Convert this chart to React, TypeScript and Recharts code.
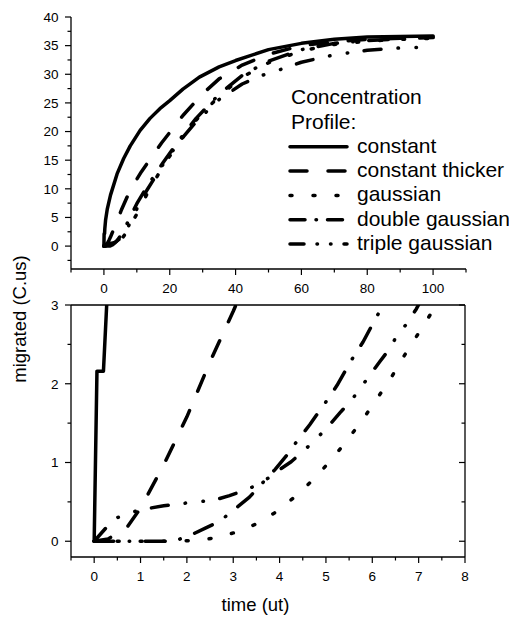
import { LineChart, Line, XAxis, YAxis } from "recharts";

const FONT = '"Liberation Sans", Arial, Helvetica, sans-serif';

// time (ut) vs migrated (C.us)
const constantT = [0, 0.06, 0.2, 0.27, 0.5, 1, 2, 4, 6, 8, 11, 14, 17, 20, 24, 29, 35, 40, 50, 60, 70, 80, 90, 100];
const constantV = [0, 2.16, 2.16, 3, 4.5, 6.4, 8.9, 12.6, 15.3, 17.5, 20.2, 22.3, 24, 25.4, 27.4, 29.5, 31.3, 32.4, 34.3, 35.4, 36.1, 36.5, 36.6, 36.7];

const thickerT = [0, 0.3, 0.7, 1, 1.5, 2, 2.5, 3, 4, 5.3, 8, 11.4, 17.5, 24, 30, 35, 42, 50, 60, 70, 80, 90, 100];
const thickerV = [0, 0.03, 0.17, 0.42, 0.97, 1.58, 2.28, 2.92, 4.3, 6.3, 9.8, 13, 18, 22.8, 26.6, 29.2, 31.6, 33.5, 35, 35.7, 36.1, 36.3, 36.5];

const gaussT = [0, 1, 1.7, 2.16, 2.59, 3.03, 3.46, 3.89, 4.32, 4.74, 5.14, 5.48, 5.8, 6.1, 6.39, 6.65, 6.92, 7.18, 7.4, 8, 10, 13, 18, 23, 28, 35, 42, 50, 60, 70, 80, 90, 100];
const gaussV = [0, 0, 0, 0.01, 0.04, 0.11, 0.21, 0.36, 0.56, 0.79, 1.05, 1.3, 1.55, 1.81, 2.06, 2.32, 2.57, 2.81, 3.02, 3.6, 5.6, 9, 14, 18.3, 22, 26.2, 29.5, 32, 34.1, 35.2, 35.8, 36.1, 36.3];

const doubleT = [0, 1, 1.73, 2.16, 2.41, 2.7, 3.06, 3.35, 3.6, 3.9, 4.14, 4.35, 4.65, 5, 5.24, 5.55, 5.8, 6.09, 6.27, 7, 8, 10, 13, 18, 23, 28, 35, 42, 50, 60, 70, 80, 90, 100];
const doubleV = [0, 0, 0, 0.1, 0.17, 0.25, 0.42, 0.56, 0.72, 0.91, 1.08, 1.25, 1.48, 1.77, 1.98, 2.3, 2.53, 2.85, 3.02, 3.9, 5.1, 7.4, 10.3, 14.6, 18.6, 22.3, 26.5, 29.8, 32.3, 34.3, 35.4, 35.9, 36.2, 36.4];

const tripleT = [0, 0.42, 0.71, 1, 1.5, 2.05, 2.38, 2.63, 2.92, 3.17, 3.46, 3.75, 4, 4.25, 4.54, 4.81, 5.08, 5.3, 5.55, 5.75, 5.96, 6.16, 6.38, 6.52, 6.74, 6.95, 8, 10, 13, 18, 23, 28, 35, 42, 48, 53, 60, 70, 80, 90, 97];
const tripleV = [0, 0.28, 0.35, 0.4, 0.45, 0.49, 0.51, 0.53, 0.58, 0.63, 0.7, 0.8, 0.91, 1.01, 1.16, 1.31, 1.48, 1.63, 1.79, 1.95, 2.12, 2.28, 2.45, 2.6, 2.76, 2.95, 4.1, 6.5, 9.7, 14.3, 18.3, 21.7, 25.6, 28.3, 29.8, 30.7, 32.1, 33.4, 34.2, 34.6, 34.7];

// ticks (majors get labels, the rest are minor marks)
const TOP_X_TICKS = [-10, 0, 10, 20, 30, 40, 50, 60, 70, 80, 90, 100, 110];
const TOP_Y_TICKS = [-2.5, 0, 2.5, 5, 7.5, 10, 12.5, 15, 17.5, 20, 22.5, 25, 27.5, 30, 32.5, 35, 37.5, 40];
const BOT_X_TICKS = [-0.5, 0, 0.5, 1, 1.5, 2, 2.5, 3, 3.5, 4, 4.5, 5, 5.5, 6, 6.5, 7, 7.5, 8];
const BOT_Y_TICKS = [0, 0.5, 1, 1.5, 2, 2.5, 3];

const zip = (t: number[], v: number[]) => t.map((x, i) => ({ t: x, v: v[i] }));

const SERIES = [
  { name: "constant", data: zip(constantT, constantV), dash: undefined, legendDash: undefined },
  { name: "constant thicker", data: zip(thickerT, thickerV), dash: "17 21", legendDash: "17 21" },
  { name: "gaussian", data: zip(gaussT, gaussV), dash: "2 21", legendDash: "2 21" },
  { name: "double gaussian", data: zip(doubleT, doubleV), dash: "19.5 15.5 0.5 15.5", legendDash: "15 11 0.5 11" },
  { name: "triple gaussian", data: zip(tripleT, tripleV), dash: "17 17 0.5 17.5 0.5 16.5", legendDash: "14 13 0.5 13 0.5 13" },
];

const AXIS_LINE = { stroke: "#000", strokeWidth: 1.3 };
const TICK_STROKE = { stroke: "#000", strokeWidth: 1.2 };

type Side = "left" | "right" | "top" | "bottom";

function makeTick(side: Side, isMajor: (v: number) => boolean, labels: boolean) {
  return (props: any) => {
    const { x, y, payload } = props;
    const v = payload.value;
    const big = isMajor(v);
    const len = big ? 6 : 3.5;
    let tick;
    let label = null;
    if (side === "left") {
      tick = <line x1={x} x2={x - len} y1={y} y2={y} {...TICK_STROKE} />;
      if (labels && big)
        label = (
          <text x={x - 12.5} y={y + 4.8} textAnchor="end" fontSize={13.5} fontFamily={FONT} fill="#000">
            {v}
          </text>
        );
    } else if (side === "bottom") {
      tick = <line x1={x} x2={x} y1={y} y2={y + len} {...TICK_STROKE} />;
      if (labels && big)
        label = (
          <text x={x} y={y + 24} textAnchor="middle" fontSize={13.5} fontFamily={FONT} fill="#000">
            {v}
          </text>
        );
    } else if (side === "right") {
      tick = <line x1={x} x2={x - len} y1={y} y2={y} {...TICK_STROKE} />;
    } else {
      tick = <line x1={x} x2={x} y1={y} y2={y + len} {...TICK_STROKE} />;
    }
    return (
      <g>
        {tick}
        {label}
      </g>
    );
  };
}

const isInt = (v: number) => Number.isInteger(v);

function Lines() {
  return SERIES.map((s) => (
    <Line
      key={s.name}
      data={s.data}
      dataKey="v"
      type="linear"
      stroke="#000"
      strokeWidth={3.5}
      strokeDasharray={s.dash}
      strokeLinecap="round"
      strokeLinejoin="round"
      dot={false}
      activeDot={false}
      isAnimationActive={false}
    />
  ));
}

function Legend() {
  const x0 = 291;
  const base = 104.2;
  const step = 24.3;
  return (
    <g fontFamily={FONT} fontSize={21} fill="#000">
      <text x={x0} y={base}>Concentration</text>
      <text x={x0} y={base + step}>Profile:</text>
      {SERIES.map((s, i) => {
        const by = base + step * (i + 2);
        return (
          <g key={s.name}>
            <line
              x1={290}
              x2={347}
              y1={by - 6}
              y2={by - 6}
              stroke="#000"
              strokeWidth={3.5}
              strokeLinecap="round"
              strokeDasharray={s.legendDash}
            />
            <text x={357} y={by}>{s.name}</text>
          </g>
        );
      })}
    </g>
  );
}

export default function App() {
  return (
    <div style={{ position: "absolute", left: 0, top: 0, width: 509, height: 617, background: "#fff" }}>
      <div style={{ position: "absolute", left: 0, top: 0 }}>
        <LineChart width={509} height={300} margin={{ top: 17, right: 43, left: 0, bottom: 0 }}>
          <XAxis
            dataKey="t"
            type="number"
            domain={[-10, 110]}
            ticks={TOP_X_TICKS}
            interval={0}
            allowDataOverflow
            height={31}
            axisLine={AXIS_LINE}
            tickLine={false}
            tickSize={0}
            tickMargin={0}
            tick={makeTick("bottom", (v) => v % 20 === 0, true)}
          />
          <YAxis
            type="number"
            domain={[-4, 40]}
            ticks={TOP_Y_TICKS}
            interval={0}
            allowDataOverflow
            width={71}
            axisLine={AXIS_LINE}
            tickLine={false}
            tickSize={0}
            tickMargin={0}
            tick={makeTick("left", (v) => v % 5 === 0, true)}
          />
          {Lines()}
        </LineChart>
      </div>
      <div style={{ position: "absolute", left: 0, top: 285 }}>
        <LineChart width={509} height={332} margin={{ top: 19, right: 43, left: 0, bottom: 30 }}>
          <XAxis
            dataKey="t"
            type="number"
            domain={[-0.5, 8]}
            ticks={BOT_X_TICKS}
            interval={0}
            allowDataOverflow
            height={30}
            axisLine={AXIS_LINE}
            tickLine={false}
            tickSize={0}
            tickMargin={0}
            tick={makeTick("bottom", isInt, true)}
          />
          <XAxis
            xAxisId="top"
            orientation="top"
            type="number"
            domain={[-0.5, 8]}
            ticks={BOT_X_TICKS}
            interval={0}
            allowDataOverflow
            height={1}
            axisLine={AXIS_LINE}
            tickLine={false}
            tickSize={0}
            tickMargin={0}
            tick={makeTick("top", isInt, false)}
          />
          <YAxis
            type="number"
            domain={[-0.2, 3]}
            ticks={BOT_Y_TICKS}
            interval={0}
            allowDataOverflow
            width={71}
            axisLine={AXIS_LINE}
            tickLine={false}
            tickSize={0}
            tickMargin={0}
            tick={makeTick("left", isInt, true)}
          />
          <YAxis
            yAxisId="right"
            orientation="right"
            type="number"
            domain={[-0.2, 3]}
            ticks={BOT_Y_TICKS}
            interval={0}
            allowDataOverflow
            width={1}
            axisLine={AXIS_LINE}
            tickLine={false}
            tickSize={0}
            tickMargin={0}
            tick={makeTick("right", isInt, false)}
          />
          {Lines()}
        </LineChart>
      </div>
      <svg
        width={509}
        height={617}
        style={{ position: "absolute", left: 0, top: 0, pointerEvents: "none" }}
      >
        <Legend />
        <text
          transform="rotate(-90)"
          x={-319}
          y={26}
          textAnchor="middle"
          fontFamily={FONT}
          fontSize={18.5}
          fill="#000"
        >
          migrated (C.us)
        </text>
        <text x={255.5} y={611} textAnchor="middle" fontFamily={FONT} fontSize={18.5} fill="#000">
          time (ut)
        </text>
      </svg>
    </div>
  );
}
